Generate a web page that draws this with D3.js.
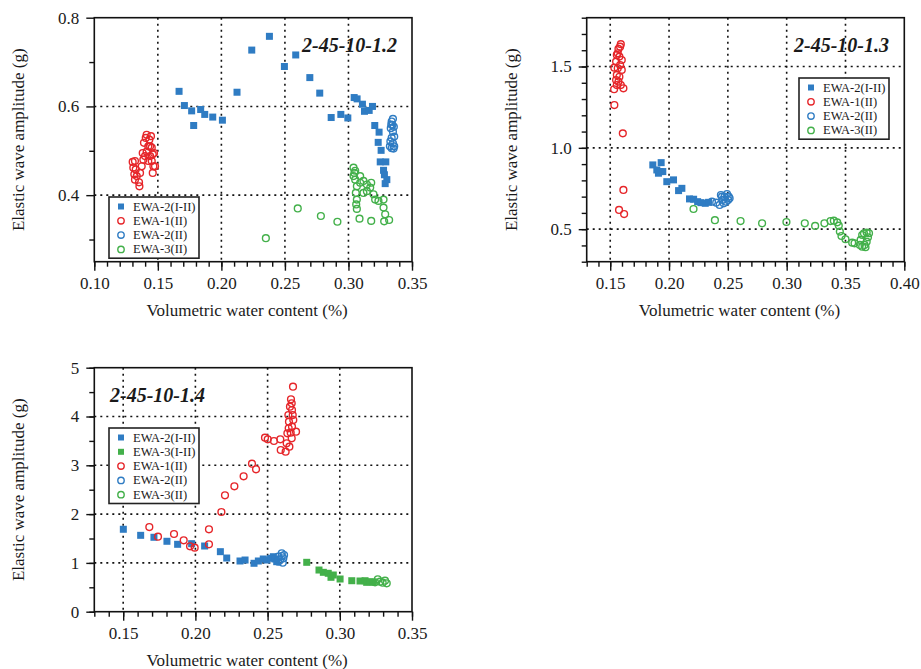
<!DOCTYPE html>
<html>
<head>
<meta charset="utf-8">
<script src="https://cdn.jsdelivr.net/npm/d3@7"></script>
<style>
  body { margin: 0; background: #fff; }
  svg text { font-family: "Liberation Serif", "DejaVu Serif", serif; fill: #1a1a1a; }
</style>
</head>
<body>
<div id="chart"></div>
<script>
// ---- data: [volumetric water content, amplitude (g)] ----

// 2-45-10-1.2
var p2_ewa2_I_II = [[0.1667,0.634],[0.1709,0.602],[0.1766,0.590],[0.1782,0.557],[0.1837,0.593],[0.1869,0.582],
  [0.1932,0.576],[0.2008,0.569],[0.2123,0.632],[0.2239,0.727],[0.2378,0.758],[0.2496,0.690],[0.2585,0.716],
  [0.2696,0.665],[0.2774,0.630],[0.2864,0.575],[0.2940,0.582],[0.2995,0.574],[0.3045,0.620],[0.3068,0.617],
  [0.3110,0.605],[0.3126,0.589],[0.3163,0.591],[0.3189,0.600],[0.3207,0.557],[0.3241,0.542],[0.3234,0.519],
  [0.3257,0.501],[0.3250,0.475],[0.3294,0.475],[0.3276,0.456],[0.3283,0.446],[0.3302,0.435],[0.3289,0.426]];
var p2_ewa1_II = [[0.1302,0.475],[0.1320,0.477],[0.1307,0.462],[0.1326,0.458],[0.1315,0.447],[0.1334,0.443],
  [0.1355,0.420],[0.1360,0.450],[0.1373,0.465],[0.1386,0.480],[0.1381,0.495],[0.1399,0.488],[0.1391,0.518],
  [0.1405,0.529],[0.1412,0.536],[0.1425,0.510],[0.1433,0.525],[0.1446,0.533],[0.1452,0.507],[0.1439,0.488],
  [0.1460,0.492],[0.1452,0.477],[0.1465,0.465],[0.1478,0.465],[0.1460,0.450],[0.1470,0.495],[0.1412,0.498],
  [0.1439,0.510],[0.1425,0.477],[0.1352,0.429],[0.1320,0.435]];
var p2_ewa2_II = [[0.3350,0.572],[0.3340,0.566],[0.3346,0.558],[0.3333,0.551],[0.3357,0.554],[0.3350,0.543],
  [0.3360,0.532],[0.3340,0.529],[0.3330,0.521],[0.3350,0.517],[0.3326,0.510],[0.3340,0.506],[0.3355,0.505],
  [0.3360,0.510],[0.3337,0.559]];
var p2_ewa3_II = [[0.2350,0.303],[0.2601,0.370],[0.2783,0.353],[0.2913,0.340],[0.3087,0.347],[0.3179,0.342],
  [0.3281,0.341],[0.3320,0.344],[0.3040,0.462],[0.3047,0.450],[0.3053,0.435],[0.3066,0.420],[0.3058,0.405],
  [0.3066,0.390],[0.3061,0.379],[0.3066,0.369],[0.3040,0.443],[0.3092,0.443],[0.3118,0.432],[0.3145,0.424],
  [0.3179,0.428],[0.3171,0.417],[0.3197,0.402],[0.3210,0.390],[0.3236,0.387],[0.3276,0.390],[0.3276,0.372],
  [0.3289,0.357],[0.3118,0.405],[0.3145,0.409],[0.3092,0.428],[0.3053,0.455]];

// 2-45-10-1.3
var p3_ewa2_I_II = [[0.1862,0.895],[0.1933,0.909],[0.1896,0.864],[0.1924,0.854],[0.1947,0.854],[0.1910,0.844],
  [0.1981,0.792],[0.2038,0.803],[0.2081,0.737],[0.2109,0.751],[0.2174,0.686],[0.2209,0.684],[0.2243,0.669],
  [0.2271,0.663],[0.2308,0.659],[0.2336,0.665]];
var p3_ewa1_II = [[0.1590,1.637],[0.1584,1.622],[0.1570,1.608],[0.1556,1.571],[0.1578,1.561],[0.1550,1.530],
  [0.1584,1.509],[0.1535,1.493],[0.1564,1.489],[0.1598,1.479],[0.1556,1.448],[0.1578,1.437],[0.1550,1.417],
  [0.1570,1.407],[0.1556,1.386],[0.1590,1.386],[0.1533,1.360],[0.1612,1.366],[0.1535,1.263],[0.1607,1.089],
  [0.1612,0.741],[0.1575,0.618],[0.1618,0.593],[0.1564,1.581],[0.1598,1.540]];
var p3_ewa2_II = [[0.2365,0.669],[0.2401,0.663],[0.2430,0.649],[0.2441,0.710],[0.2455,0.680],[0.2472,0.700],
  [0.2493,0.716],[0.2507,0.700],[0.2515,0.690],[0.2502,0.680],[0.2485,0.669],[0.2465,0.659],[0.2450,0.700]];
var p3_ewa3_II = [[0.2208,0.624],[0.2390,0.555],[0.2608,0.550],[0.2791,0.536],[0.2998,0.544],[0.3154,0.536],
  [0.3242,0.520],[0.3321,0.536],[0.3373,0.550],[0.3401,0.552],[0.3430,0.542],[0.3443,0.522],[0.3452,0.485],
  [0.3466,0.458],[0.3500,0.438],[0.3557,0.417],[0.3577,0.413],[0.3622,0.403],[0.3642,0.392],[0.3670,0.389],
  [0.3629,0.434],[0.3642,0.464],[0.3657,0.475],[0.3680,0.479],[0.3700,0.475],[0.3691,0.450],[0.3680,0.423],
  [0.3662,0.403]];

// 2-45-10-1.4
var p4_ewa2_I_II = [[0.1501,1.689],[0.1621,1.565],[0.1713,1.525],[0.1803,1.443],[0.1877,1.381],[0.1974,1.394],
  [0.2064,1.346],[0.2173,1.230],[0.2217,1.100],[0.2309,1.039],[0.2344,1.059],[0.2406,0.992],[0.2436,1.039],
  [0.2470,1.080],[0.2494,1.059],[0.2521,1.094],[0.2540,1.127],[0.2551,1.080],[0.2563,1.025]];
var p4_ewa3_I_II = [[0.2771,1.012],[0.2856,0.854],[0.2886,0.807],[0.2920,0.787],[0.2939,0.705],[0.2955,0.752],
  [0.3002,0.670],[0.3083,0.635],[0.3140,0.629],[0.3175,0.635],[0.3186,0.602],[0.3209,0.615],[0.3232,0.602]];
var p4_ewa1_II = [[0.1681,1.735],[0.1741,1.537],[0.1852,1.592],[0.1919,1.463],[0.1963,1.340],[0.1995,1.312],
  [0.2094,1.689],[0.2094,1.381],[0.2180,2.043],[0.2205,2.385],[0.2270,2.570],[0.2334,2.775],[0.2392,3.033],
  [0.2420,2.918],[0.2482,3.566],[0.2501,3.533],[0.2544,3.498],[0.2588,3.533],[0.2591,3.314],[0.2625,3.279],
  [0.2632,3.451],[0.2637,3.656],[0.2646,3.758],[0.2648,3.893],[0.2644,4.030],[0.2655,4.201],[0.2662,4.352],
  [0.2667,4.270],[0.2669,4.133],[0.2674,4.030],[0.2678,3.928],[0.2669,3.791],[0.2660,3.668],[0.2667,3.553],
  [0.2651,3.381],[0.2697,3.689],[0.2676,4.611]];
var p4_ewa2_II = [[0.2574,1.127],[0.2598,1.141],[0.2586,1.059],[0.2609,1.094],[0.2605,1.004],[0.2574,1.025],
  [0.2614,1.162],[0.2598,1.197]];
var p4_ewa3_II = [[0.3263,0.664],[0.3279,0.615],[0.3297,0.594],[0.3325,0.582],[0.3313,0.635],[0.3244,0.602]];

// tick values
var p2_xTicks = [0.10, 0.15, 0.20, 0.25, 0.30, 0.35];
var p2_yTicks = [0.4, 0.6, 0.8];
var p2_yMinor = [0.3, 0.5, 0.7];
var p3_xTicks = [0.15, 0.20, 0.25, 0.30, 0.35, 0.40];
var p3_yTicks = [0.5, 1.0, 1.5];
var p4_xTicks = [0.15, 0.20, 0.25, 0.30, 0.35];
var p4_yTicks = [0, 1, 2, 3, 4, 5];

var blue = "#2f7cc3";
var red = "#e6262a";
var green = "#43b04a";

var svg = d3.select("#chart")
  .append("svg")
  .attr("width", 921)
  .attr("height", 669);

function drawPanel(p) {
  var x = d3.scaleLinear().domain(p.xDomain).range([p.left, p.right]);
  var y = d3.scaleLinear().domain(p.yDomain).range([p.bottom, p.top]);
  var g = svg.append("g");

  // dotted grid
  g.selectAll(null).data(p.xGrid).enter().append("line")
    .attr("x1", d => x(d)).attr("x2", d => x(d))
    .attr("y1", p.top).attr("y2", p.bottom)
    .attr("stroke", "#111").attr("stroke-width", 1.6)
    .attr("stroke-dasharray", "2,4");
  g.selectAll(null).data(p.yGrid).enter().append("line")
    .attr("y1", d => y(d)).attr("y2", d => y(d))
    .attr("x1", p.left).attr("x2", p.right)
    .attr("stroke", "#111").attr("stroke-width", 1.6)
    .attr("stroke-dasharray", "2,4");

  // axes
  var xMajor = g.append("g")
    .attr("transform", `translate(0, ${p.bottom})`)
    .call(d3.axisBottom(x).tickValues(p.xTicks).tickSize(9).tickPadding(6).tickFormat(d3.format(".2f")));
  var xMinor = g.append("g")
    .attr("transform", `translate(0, ${p.bottom})`)
    .call(d3.axisBottom(x).tickValues(p.xMinor).tickSize(5).tickFormat(""));
  var yMajor = g.append("g")
    .attr("transform", `translate(${p.left}, 0)`)
    .call(d3.axisLeft(y).tickValues(p.yTicks).tickSize(8).tickPadding(7).tickFormat(d3.format(p.yFormat)));
  var yMinor = g.append("g")
    .attr("transform", `translate(${p.left}, 0)`)
    .call(d3.axisLeft(y).tickValues(p.yMinor).tickSize(5).tickFormat(""));

  [xMajor, xMinor, yMajor, yMinor].forEach(function(a) {
    a.select(".domain").remove();
    a.selectAll("line").attr("stroke", "#111").attr("stroke-width", 1.4);
    a.selectAll("text").style("font-size", "17px").attr("fill", "#1a1a1a");
  });

  // frame
  g.append("rect")
    .attr("x", p.left).attr("y", p.top)
    .attr("width", p.right - p.left).attr("height", p.bottom - p.top)
    .attr("fill", "none").attr("stroke", "#111").attr("stroke-width", 1.6);

  // points
  p.series.forEach(function(s) {
    if (s.shape === "square") {
      g.selectAll(null).data(s.data).enter().append("rect")
        .attr("x", d => x(d[0]) - 3.5)
        .attr("y", d => y(d[1]) - 3.5)
        .attr("width", 7).attr("height", 7)
        .attr("fill", s.color);
    } else {
      g.selectAll(null).data(s.data).enter().append("circle")
        .attr("cx", d => x(d[0]))
        .attr("cy", d => y(d[1]))
        .attr("r", 3.4)
        .attr("fill", "none")
        .attr("stroke", s.color)
        .attr("stroke-width", 1.4);
    }
  });

  // title
  g.append("text")
    .attr("x", p.titleX).attr("y", p.titleY)
    .attr("text-anchor", p.titleAnchor)
    .style("font-size", "20px").style("font-weight", "bold").style("font-style", "italic")
    .text(p.title);

  // legend
  var lg = p.series.slice().sort((a, b) => a.order - b.order);
  var lx = p.legendX, ly = p.legendY;
  g.append("rect")
    .attr("x", lx).attr("y", ly)
    .attr("width", 90).attr("height", lg.length * 14.3 + 4)
    .attr("fill", "#fff").attr("stroke", "#222").attr("stroke-width", 1.6);
  lg.forEach(function(s, i) {
    var cy = ly + 9.5 + i * 14.3;
    if (s.shape === "square") {
      g.append("rect").attr("x", lx + 9).attr("y", cy - 3).attr("width", 6).attr("height", 6).attr("fill", s.color);
    } else {
      g.append("circle").attr("cx", lx + 12).attr("cy", cy).attr("r", 3.2)
        .attr("fill", "none").attr("stroke", s.color).attr("stroke-width", 1.4);
    }
    g.append("text")
      .attr("x", lx + 24).attr("y", cy + 4)
      .style("font-size", "12.5px")
      .text(s.name);
  });

  // axis titles
  g.append("text")
    .attr("x", (p.left + p.right) / 2 - 6).attr("y", p.bottom + 54)
    .attr("text-anchor", "middle")
    .style("font-size", "17px")
    .text("Volumetric water content (%)");
  g.append("text")
    .attr("transform", `translate(${p.left - 70}, ${(p.top + p.bottom) / 2}) rotate(-90)`)
    .attr("text-anchor", "middle")
    .style("font-size", "17px")
    .text("Elastic wave amplitude (g)");
}

drawPanel({
  left: 94.3, right: 412, top: 17.7, bottom: 261.7,
  xDomain: [0.10, 0.35], yDomain: [0.25, 0.8],
  xTicks: p2_xTicks, xMinor: d3.range(10, 36).map(d => d / 100),
  yTicks: p2_yTicks, yMinor: p2_yMinor, yFormat: ".1f",
  xGrid: [0.15, 0.20, 0.25, 0.30], yGrid: [0.4, 0.6],
  title: "2-45-10-1.2", titleX: 397, titleY: 52, titleAnchor: "end",
  legendX: 109, legendY: 197,
  series: [
    { name: "EWA-2(I-II)", shape: "square", color: blue, data: p2_ewa2_I_II, order: 0 },
    { name: "EWA-1(II)", shape: "circle", color: red, data: p2_ewa1_II, order: 1 },
    { name: "EWA-3(II)", shape: "circle", color: green, data: p2_ewa3_II, order: 3 },
    { name: "EWA-2(II)", shape: "circle", color: blue, data: p2_ewa2_II, order: 2 }
  ]
});

drawPanel({
  left: 586.7, right: 904.3, top: 17.7, bottom: 261.7,
  xDomain: [0.13, 0.40], yDomain: [0.3, 1.8],
  xTicks: p3_xTicks, xMinor: d3.range(13, 41).map(d => d / 100),
  yTicks: p3_yTicks, yMinor: d3.range(3, 19).map(d => d / 10), yFormat: ".1f",
  xGrid: [0.15, 0.20, 0.25, 0.30, 0.35], yGrid: [0.5, 1.0, 1.5],
  title: "2-45-10-1.3", titleX: 889, titleY: 52, titleAnchor: "end",
  legendX: 799, legendY: 78,
  series: [
    { name: "EWA-2(I-II)", shape: "square", color: blue, data: p3_ewa2_I_II, order: 0 },
    { name: "EWA-1(II)", shape: "circle", color: red, data: p3_ewa1_II, order: 1 },
    { name: "EWA-3(II)", shape: "circle", color: green, data: p3_ewa3_II, order: 3 },
    { name: "EWA-2(II)", shape: "circle", color: blue, data: p3_ewa2_II, order: 2 }
  ]
});

drawPanel({
  left: 94.3, right: 412, top: 367.7, bottom: 611.7,
  xDomain: [0.13, 0.35], yDomain: [0, 5],
  xTicks: p4_xTicks, xMinor: d3.range(13, 36).map(d => d / 100),
  yTicks: p4_yTicks, yMinor: d3.range(0, 11).map(d => d / 2), yFormat: "d",
  xGrid: [0.15, 0.20, 0.25, 0.30], yGrid: [1, 2, 3, 4],
  title: "2-45-10-1.4", titleX: 110, titleY: 402, titleAnchor: "start",
  legendX: 109, legendY: 428,
  series: [
    { name: "EWA-2(I-II)", shape: "square", color: blue, data: p4_ewa2_I_II, order: 0 },
    { name: "EWA-3(I-II)", shape: "square", color: green, data: p4_ewa3_I_II, order: 1 },
    { name: "EWA-1(II)", shape: "circle", color: red, data: p4_ewa1_II, order: 2 },
    { name: "EWA-2(II)", shape: "circle", color: blue, data: p4_ewa2_II, order: 3 },
    { name: "EWA-3(II)", shape: "circle", color: green, data: p4_ewa3_II, order: 4 }
  ]
});
</script>
</body>
</html>
